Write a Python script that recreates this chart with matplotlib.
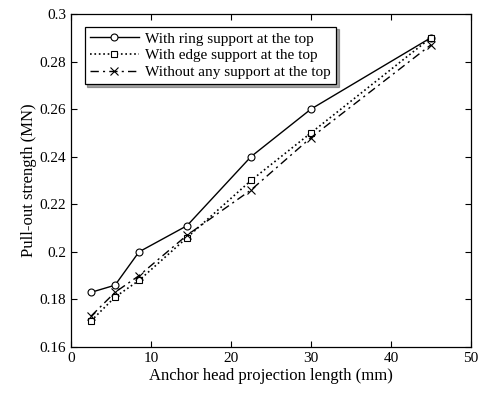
import matplotlib
matplotlib.use("Agg")
import matplotlib.pyplot as plt

plt.rcParams['font.family'] = ['Liberation Serif', 'DejaVu Serif']

# projection length (mm)
x_vals = [2.5, 5.5, 8.5, 14.5, 22.5, 30, 45]
# pull-out strength (MN)
ring_vals = [0.183, 0.186, 0.200, 0.211, 0.240, 0.260, 0.290]
edge_vals = [0.171, 0.181, 0.188, 0.206, 0.230, 0.250, 0.290]
none_vals = [0.173, 0.183, 0.190, 0.207, 0.226, 0.248, 0.287]

labels = ["With ring support at the top",
          "With edge support at the top",
          "Without any support at the top"]
x_ticks = [0, 10, 20, 30, 40, 50]
y_ticks = [0.16, 0.18, 0.2, 0.22, 0.24, 0.26, 0.28, 0.3]
y_ticklabels = ["0.16", "0.18", "0.2", "0.22", "0.24", "0.26", "0.28", "0.3"]

fig = plt.figure(figsize=(4.8, 3.98), dpi=100)
ax = fig.add_axes([0.148, 0.128, 0.833, 0.837])

ax.plot(x_vals, ring_vals, '-', color='black', lw=1.0,
        marker='o', ms=5, mfc='white', mec='black', mew=0.8, label=labels[0])
ax.plot(x_vals, edge_vals, ':', color='black', lw=1.2,
        marker='s', ms=5, mfc='white', mec='black', mew=0.8, label=labels[1])
ax.plot(x_vals, none_vals, color='black', lw=1.0, dashes=(6, 3, 1.5, 3),
        marker='x', ms=6, mec='black', mew=0.8, label=labels[2])

ax.set_xlim(0, 50)
ax.set_ylim(0.16, 0.3)
ax.set_xticks(x_ticks)
ax.set_yticks(y_ticks)
ax.set_yticklabels(y_ticklabels)
ax.tick_params(direction='in', top=True, right=True, labelsize=11, length=4)
for s in ax.spines.values():
    s.set_linewidth(0.9)

ax.set_xlabel("Anchor head projection length (mm)", fontsize=12, labelpad=2)
ax.set_ylabel("Pull-out strength (MN)", fontsize=12, labelpad=2)

leg = ax.legend(loc='upper left', fontsize=11, frameon=True, fancybox=False,
                shadow=True, handlelength=3.2, borderpad=0.35, labelspacing=0.2,
                handletextpad=0.4, bbox_to_anchor=(0.015, 0.985))
leg.get_frame().set_edgecolor('black')
leg.get_frame().set_linewidth(0.9)

fig.savefig("out.png", dpi=100)
